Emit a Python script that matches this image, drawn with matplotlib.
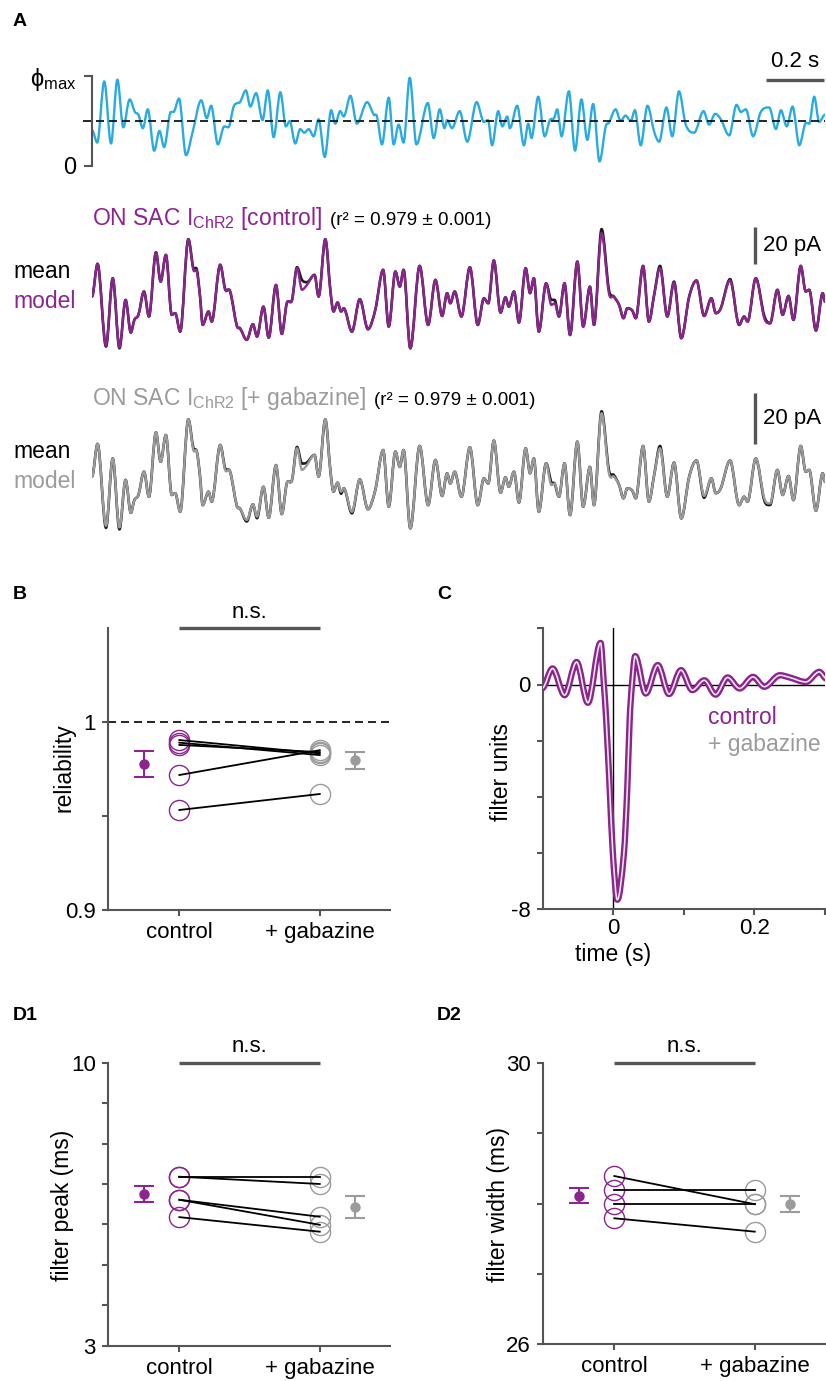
import matplotlib
matplotlib.use('Agg')
import matplotlib.pyplot as plt
import numpy as np
from matplotlib.path import Path
from matplotlib.patches import PathPatch

plt.rcParams['font.family'] = ['Liberation Sans', 'DejaVu Sans']
plt.rcParams['mathtext.fontset'] = 'custom'
plt.rcParams['mathtext.rm'] = 'Liberation Sans'
plt.rcParams['mathtext.it'] = 'Liberation Sans:italic'
plt.rcParams['mathtext.bf'] = 'Liberation Sans:bold'

W, H = 826, 1381
PURPLE = '#8C248E'
GREY = '#9B9B9B'
AXC = '#555555'
BLUE = '#29ABE2'

# ---- panel A: light stimulus (fraction of phi_max) ----
stim_t = [0.000, 0.018, 0.042, 0.065, 0.087, 0.107, 0.129, 0.147, 0.159, 0.174,
          0.191, 0.213, 0.231, 0.247, 0.270, 0.279, 0.298, 0.322, 0.344, 0.374,
          0.393, 0.408, 0.431, 0.453, 0.467, 0.485, 0.498, 0.507, 0.527, 0.542,
          0.562, 0.584, 0.602, 0.622, 0.645, 0.664, 0.677, 0.696, 0.713, 0.727,
          0.742, 0.759, 0.776, 0.797, 0.819, 0.833, 0.850, 0.862, 0.885, 0.907,
          0.942, 0.965, 0.976, 0.993, 1.016, 1.033, 1.050, 1.067, 1.088, 1.111,
          1.150, 1.170, 1.191, 1.207, 1.216, 1.233, 1.259, 1.285, 1.317, 1.342,
          1.356, 1.370, 1.391, 1.405, 1.422, 1.431, 1.456, 1.479, 1.494, 1.505,
          1.528, 1.550, 1.568, 1.582, 1.593, 1.608, 1.633, 1.654, 1.676, 1.696,
          1.716, 1.738, 1.759, 1.770, 1.793, 1.810, 1.827, 1.845, 1.859, 1.879,
          1.902, 1.925, 1.942, 1.967, 1.987, 2.010, 2.033, 2.062, 2.094, 2.113,
          2.134, 2.153, 2.182, 2.207, 2.222, 2.239, 2.264, 2.290, 2.319, 2.342,
          2.359, 2.379, 2.399, 2.422, 2.445, 2.456, 2.473, 2.490, 2.510]
stim_v = [0.40, 0.26, 0.94, 0.25, 0.96, 0.43, 0.74, 0.60, 0.57, 0.42,
          0.63, 0.17, 0.39, 0.21, 0.60, 0.60, 0.75, 0.12, 0.37, 0.73,
          0.53, 0.67, 0.24, 0.44, 0.43, 0.66, 0.70, 0.71, 0.84, 0.66,
          0.81, 0.51, 0.84, 0.32, 0.82, 0.44, 0.50, 0.25, 0.41, 0.37,
          0.41, 0.33, 0.52, 0.10, 0.62, 0.47, 0.61, 0.55, 0.78, 0.47,
          0.71, 0.57, 0.55, 0.24, 0.76, 0.24, 0.46, 0.26, 0.98, 0.24,
          0.70, 0.31, 0.63, 0.42, 0.51, 0.42, 0.61, 0.27, 0.71, 0.49,
          0.51, 0.23, 0.61, 0.44, 0.55, 0.42, 0.67, 0.23, 0.47, 0.31,
          0.77, 0.33, 0.51, 0.53, 0.63, 0.33, 0.83, 0.17, 0.74, 0.29,
          0.69, 0.05, 0.44, 0.48, 0.63, 0.50, 0.56, 0.50, 0.62, 0.23,
          0.67, 0.38, 0.27, 0.65, 0.33, 0.83, 0.46, 0.37, 0.61, 0.46,
          0.58, 0.52, 0.34, 0.68, 0.60, 0.63, 0.33, 0.60, 0.65, 0.41,
          0.62, 0.44, 0.66, 0.23, 0.48, 0.47, 0.77, 0.49, 0.57]

# ---- panel A: currents (pA) ----
cur_t = [0.000, 0.019, 0.048, 0.071, 0.094, 0.115, 0.133, 0.145, 0.159, 0.178,
         0.195, 0.219, 0.235, 0.253, 0.273, 0.285, 0.302, 0.330, 0.347, 0.359,
         0.370, 0.379, 0.399, 0.410, 0.439, 0.456, 0.473, 0.496, 0.507, 0.530,
         0.551, 0.565, 0.587, 0.605, 0.630, 0.650, 0.667, 0.685, 0.702, 0.719,
         0.736, 0.762, 0.776, 0.799, 0.816, 0.827, 0.841, 0.853, 0.862, 0.890,
         0.917, 0.945, 0.970, 0.997, 1.016, 1.039, 1.054, 1.067, 1.090, 1.122,
         1.151, 1.176, 1.199, 1.216, 1.227, 1.242, 1.265, 1.294, 1.321, 1.342,
         1.357, 1.376, 1.399, 1.416, 1.427, 1.445, 1.462, 1.485, 1.500, 1.513,
         1.530, 1.555, 1.573, 1.584, 1.599, 1.618, 1.637, 1.662, 1.682, 1.705,
         1.719, 1.745, 1.770, 1.787, 1.805, 1.820, 1.833, 1.850, 1.862, 1.887,
         1.907, 1.925, 1.945, 1.970, 1.993, 2.018, 2.045, 2.070, 2.096, 2.121,
         2.136, 2.153, 2.185, 2.216, 2.233, 2.245, 2.273, 2.302, 2.322, 2.347,
         2.365, 2.385, 2.402, 2.427, 2.444, 2.456, 2.479, 2.502, 2.510]
ctrl_model = [14.3, 31.8, -12.0, 24.1, -12.9, 12.5, -5.0, 1.8, 4.5, 17.0,
              3.6, 38.0, 22.3, 36.6, 4.5, 5.4, -4.5, 45.0, 28.6, 27.7,
              14.3, -0.9, 6.3, 0.9, 31.3, 17.9, 17.0, -1.4, -2.7, -8.9,
              -0.5, -7.1, 8.9, -7.7, 20.5, -5.7, 10.7, 12.5, 29.5, 17.9,
              20.5, 25.9, 14.3, 45.0, 17.9, 6.3, 11.1, 6.3, 8.0, -4.5,
              12.9, -3.2, 7.1, 28.6, -1.8, 27.7, 19.6, 28.6, -13.4, 30.7,
              -0.9, 23.2, 3.9, 16.1, 10.7, 17.0, 3.6, 30.0, -0.9, 13.4,
              10.7, 33.6, 5.7, 13.9, 8.9, 17.0, 0.4, 29.5, 16.1, 24.1,
              -4.5, 21.4, 9.8, 10.7, 3.6, 21.4, -6.3, 33.0, -1.8, 19.6,
              -0.9, 48.2, 16.1, 14.3, 9.8, 2.7, 8.0, 6.8, 2.7, 30.7,
              0.9, 15.2, 29.5, 3.6, 21.8, -8.0, 14.3, 22.9, 3.9, 13.4,
              5.4, 8.0, 22.9, -0.9, 3.6, 0.9, 24.1, 2.7, 0.0, 17.9,
              4.5, 14.6, 1.8, 30.7, 17.0, 17.9, -3.9, 16.1, 11.6]
# where the recorded mean departs from the model (sample index: pA)
ctrl_mean_dev = {2: -0.5, 4: -0.5, 18: 0.9, 19: 1.0, 25: 0.5, 38: 0.5, 39: 5.3,
                 40: 1.5, 82: 2.7, 83: 1.8, 91: 2.2, 92: 1.8, 102: 1.2,
                 104: 0.5, 112: 0.7, 117: 1.3}
gbz_model = [10.5, 23.3, -8.8, 17.6, -9.4, 9.2, -3.7, 1.3, 3.3, 12.4,
             2.6, 27.8, 16.3, 26.8, 3.3, 4.0, -3.3, 32.9, 20.9, 20.3,
             10.5, -0.7, 4.6, 0.7, 22.9, 13.1, 12.4, -1.0, -2.0, -6.5,
             -0.4, -5.2, 6.5, -5.6, 15.0, -4.2, 7.8, 9.2, 21.6, 13.1,
             15.0, 19.0, 10.5, 32.9, 13.1, 4.6, 8.1, 4.6, 5.9, -3.3,
             9.4, -2.3, 5.2, 20.9, -1.3, 20.3, 14.3, 20.9, -9.8, 22.5,
             -0.7, 17.0, 2.9, 11.8, 7.8, 12.4, 2.6, 22.0, -0.7, 9.8,
             7.8, 24.6, 4.2, 10.2, 6.5, 12.4, 0.3, 21.6, 11.8, 17.6,
             -3.3, 15.7, 7.2, 7.8, 2.6, 15.7, -4.6, 24.2, -1.3, 14.3,
             -0.7, 35.3, 11.8, 10.5, 7.2, 2.0, 5.9, 5.0, 2.0, 22.5,
             0.7, 11.1, 21.6, 2.6, 16.0, -5.9, 10.5, 16.8, 2.9, 9.8,
             4.0, 5.9, 16.8, -0.7, 2.6, 0.7, 17.6, 2.0, 0.0, 13.1,
             3.3, 10.7, 1.3, 22.5, 12.4, 13.1, -2.9, 11.8, 8.5]
gbz_mean_dev = {2: -0.8, 4: -0.8, 18: 0.8, 25: 0.6, 29: -0.6, 31: -0.6, 38: 0.5,
                39: 2.5, 40: 1.0, 47: -0.8, 49: -0.6, 82: 1.0, 91: 0.8, 92: 1.2,
                93: 0.6, 102: 0.9, 108: -0.7, 117: -0.8, 118: -0.6}

# ---- panel B: reliability ----
rel_ctrl = [0.9904, 0.9890, 0.9878, 0.9718, 0.9532]
rel_gbz = [0.9833, 0.9824, 0.9840, 0.9850, 0.9617]
rel_mean = [0.9776, 0.9796]
rel_err = [0.0070, 0.0046]

# ---- panel C: temporal filter ----
filt_t = [-0.101, -0.086, -0.069, -0.052, -0.036, -0.018, -0.0133, -0.010,
          -0.0052, -0.0006, 0.0057, 0.0151, 0.0199, 0.0232, 0.0265, 0.031,
          0.046, 0.063, 0.079, 0.096, 0.112, 0.129, 0.145, 0.162, 0.179,
          0.198, 0.214, 0.236, 0.250, 0.273, 0.292, 0.302]
ctrl_filter = [-0.14, 0.57, -0.38, 0.80, -0.65, 1.48, 0.0, -1.27,
               -3.65, -6.0, -7.66, -6.0, -3.65, -1.27, 0.0, 1.01,
               -0.32, 0.69, -0.34, 0.51, -0.20, 0.15, -0.36, 0.25, -0.14,
               0.27, -0.08, 0.33, 0.25, 0.09, 0.45, 0.21]
gbz_filter = [-0.14, 0.57, -0.38, 0.80, -0.65, 1.48, 0.0, -1.27,
              -3.65, -6.0, -7.66, -6.0, -3.65, -1.27, 0.0, 1.01,
              -0.32, 0.69, -0.34, 0.51, -0.20, 0.15, -0.36, 0.25, -0.14,
              0.27, -0.08, 0.33, 0.25, 0.09, 0.45, 0.21]

# ---- panel D: filter peak and width (ms) ----
peak_ctrl = [7.18, 7.18, 6.61, 6.61, 6.18]
peak_gbz = [7.18, 7.00, 6.19, 5.99, 5.82]
peak_mean = [6.75, 6.43]
peak_err = [0.20, 0.28]
width_ctrl = [28.39, 28.19, 27.99, 27.79]
width_gbz = [27.99, 28.19, 27.99, 27.60]
width_mean = [28.11, 27.99]
width_err = [0.105, 0.11]

conditions = ['control', '+ gabazine']

fig = plt.figure(figsize=(W / 100, H / 100), dpi=100)


def px_axes(l, t, r, b):
    return fig.add_axes([l / W, 1 - b / H, (r - l) / W, (b - t) / H])


def ftext(x, y, s, **kw):
    return fig.text(x / W, 1 - y / H, s, **kw)


def curve(ax, x, y, **kw):
    # draw the sampled trace as a smooth curve through every sample
    x = np.asarray(x, float)
    y = np.asarray(y, float)
    n = len(x)
    s = np.zeros(n)
    for i in range(1, n - 1):
        if (y[i] - y[i - 1]) * (y[i + 1] - y[i]) > 0:
            s[i] = (y[i + 1] - y[i - 1]) / (x[i + 1] - x[i - 1])
    verts = [(x[0], y[0])]
    codes = [Path.MOVETO]
    for i in range(n - 1):
        h = (x[i + 1] - x[i]) / 3
        verts += [(x[i] + h, y[i] + s[i] * h),
                  (x[i + 1] - h, y[i + 1] - s[i + 1] * h),
                  (x[i + 1], y[i + 1])]
        codes += [Path.CURVE4] * 3
    patch = PathPatch(Path(verts, codes), fill=False, joinstyle='round',
                      capstyle='round', **kw)
    ax.add_patch(patch)
    return patch


# panel letters
for lab, x, y in [('A', 13, 21), ('B', 13, 595), ('C', 437, 595),
                  ('D1', 13, 1015), ('D2', 437, 1015)]:
    ftext(x, y, lab, fontsize=14, fontweight='bold', va='center', ha='left')

# ---- stimulus ----
ax = px_axes(92, 70, 825, 172)
curve(ax, stim_t, stim_v, edgecolor=BLUE, lw=1.7)
ax.plot([-0.03, 2.51], [0.5, 0.5], color='k', lw=1.2, dashes=(4.8, 3),
        clip_on=False)
ax.set_xlim(0, 2.51)
ax.set_ylim(-0.0667, 1.0667)
for s in ['top', 'right', 'bottom']:
    ax.spines[s].set_visible(False)
ax.spines['left'].set_bounds(0, 1)
ax.spines['left'].set_color(AXC)
ax.spines['left'].set_linewidth(1.5)
ax.set_xticks([])
ax.set_yticks([0, 1])
ax.set_yticklabels(['0', 'ϕ$_{\\mathrm{max}}$'])
ax.tick_params(axis='y', length=6, width=1.5, color=AXC, pad=5, labelsize=17)
ax.patch.set_visible(False)
ax.plot([2.307, 2.507], [0.956, 0.956], color=AXC, lw=2.4,
        solid_capstyle='butt', clip_on=False)
ax.text(2.407, 1.156, '0.2 s', ha='center', va='center', fontsize=16,
        clip_on=False)


# ---- current traces ----
def trace_panel(top, bot, ylim, model, dev, col, title, bar_lo, y_title,
                y_mean):
    a = px_axes(92, top, 825, bot)
    mean = list(model)
    for i, d in dev.items():
        mean[i] = mean[i] + d
    curve(a, cur_t, mean, edgecolor='#1a1a1a', lw=1.9)
    curve(a, cur_t, model, edgecolor=col, lw=1.7)
    a.set_xlim(0, 2.51)
    a.set_ylim(*ylim)
    a.axis('off')
    a.plot([2.27, 2.27], [bar_lo, bar_lo + 20], color=AXC, lw=2.4,
           solid_capstyle='butt', clip_on=False)
    a.text(2.297, bar_lo + 10, '20 pA', ha='left', va='center', fontsize=16,
           clip_on=False)
    ftext(13, y_mean, 'mean', color='k', fontsize=16.5, va='center')
    ftext(13, y_mean + 30, 'model', color=col, fontsize=16.5, va='center')
    t = ftext(92, y_title, title, color=col, fontsize=16.5, va='baseline')
    fig.canvas.draw()
    bb = t.get_window_extent(fig.canvas.get_renderer())
    ftext(bb.x1 + 8, y_title, '(r² = 0.979 ± 0.001)', color='k',
          fontsize=13.5, va='baseline')


trace_panel(222, 355, (-17.0, 54.2), ctrl_model, ctrl_mean_dev, PURPLE,
            r'ON SAC I$_{\mathrm{ChR2}}$ [control]', 31.7, 225, 272)
trace_panel(385, 535, (-12.4, 46.4), gbz_model, gbz_mean_dev, GREY,
            r'ON SAC I$_{\mathrm{ChR2}}$ [+ gabazine]', 23.4, 405, 452)


def style(a):
    for s in ['top', 'right']:
        a.spines[s].set_visible(False)
    for s in ['left', 'bottom']:
        a.spines[s].set_color(AXC)
        a.spines[s].set_linewidth(1.5)
    a.tick_params(direction='out', length=4.5, width=1.5, color=AXC,
                  labelsize=16, pad=4)
    a.patch.set_visible(False)


def paired(a, c, g, mean, err, top, ns_y):
    a.plot([1] * len(c), c, 'o', ms=14.5, mfc='none', mec=PURPLE, mew=1.0,
           zorder=2)
    a.plot([2] * len(g), g, 'o', ms=14.5, mfc='none', mec=GREY, mew=1.0,
           zorder=2)
    for v0, v1 in zip(c, g):
        a.plot([1, 2], [v0, v1], color='k', lw=1.3, zorder=3)
    a.errorbar(0.75, mean[0], yerr=err[0], fmt='o', ms=6.5, color=PURPLE,
               capsize=7.5, elinewidth=1.5, capthick=1.5)
    a.errorbar(2.25, mean[1], yerr=err[1], fmt='o', ms=6.5, color=GREY,
               capsize=7.5, elinewidth=1.5, capthick=1.5)
    a.plot([1, 2], [top, top], color=AXC, lw=2.4, solid_capstyle='butt',
           clip_on=False)
    a.text(1.5, ns_y, 'n.s.', ha='center', va='center', fontsize=16)
    a.set_xlim(0.49, 2.50)
    a.set_xticks([1, 2])
    a.set_xticklabels(conditions)


# ---- B ----
axB = px_axes(107.7, 628, 390, 910)
style(axB)
axB.axhline(1.0, color='k', lw=1.2, dashes=(4.8, 3))
paired(axB, rel_ctrl, rel_gbz, rel_mean, rel_err, 1.05, 1.0585)
axB.set_ylim(0.9, 1.05)
axB.set_yticks([0.9, 0.95, 1.0])
axB.set_yticklabels(['0.9', '', '1'])
ftext(64, 768, 'reliability', rotation=90, ha='center', va='center',
      fontsize=16.5)

# ---- C ----
axC = px_axes(542.7, 628.3, 825, 909.3)
style(axC)
axC.axhline(0, color='k', lw=1.0, zorder=1)
axC.axvline(0, color='k', lw=1.0, zorder=1)
pc = curve(axC, filt_t, ctrl_filter, edgecolor=PURPLE, lw=4.6)
pc.set_zorder(3)
pg = curve(axC, filt_t, gbz_filter, edgecolor='#E6E6E6', lw=1.2)
pg.set_zorder(4)
axC.set_xlim(-0.1, 0.3)
axC.set_ylim(-8, 2)
axC.set_yticks([-8, -6, -4, -2, 0, 2])
axC.set_yticklabels(['-8', '', '', '', '0', ''])
axC.set_xticks([0, 0.1, 0.2, 0.3])
axC.set_xticklabels(['0', '', '0.2', ''])
axC.tick_params(axis='x', pad=2)
ftext(708, 717, 'control', color=PURPLE, fontsize=16.5, va='center')
ftext(708, 745, '+ gabazine', color=GREY, fontsize=16.5, va='center')
ftext(502, 772, 'filter units', rotation=90, ha='center', va='center',
      fontsize=16.5)
ftext(613, 954, 'time (s)', ha='center', va='center', fontsize=16.5)

# ---- D1 ----
axD1 = px_axes(107.7, 1062.7, 390, 1345.7)
style(axD1)
paired(axD1, peak_ctrl, peak_gbz, peak_mean, peak_err, 10, 10.4)
axD1.set_ylim(3, 10)
axD1.set_yticks(range(3, 11))
axD1.set_yticklabels(['3', '', '', '', '', '', '', '10'])
ftext(63, 1205, 'filter peak (ms)', rotation=90, ha='center', va='center',
      fontsize=16.5)

# ---- D2 ----
axD2 = px_axes(542.7, 1062.7, 825, 1344.3)
style(axD2)
paired(axD2, width_ctrl, width_gbz, width_mean, width_err, 30, 30.23)
axD2.set_ylim(26, 30)
axD2.set_yticks(range(26, 31))
axD2.set_yticklabels(['26', '', '', '', '30'])
ftext(499, 1204, 'filter width (ms)', rotation=90, ha='center', va='center',
      fontsize=16.5)

fig.savefig('out.png', dpi=100)
